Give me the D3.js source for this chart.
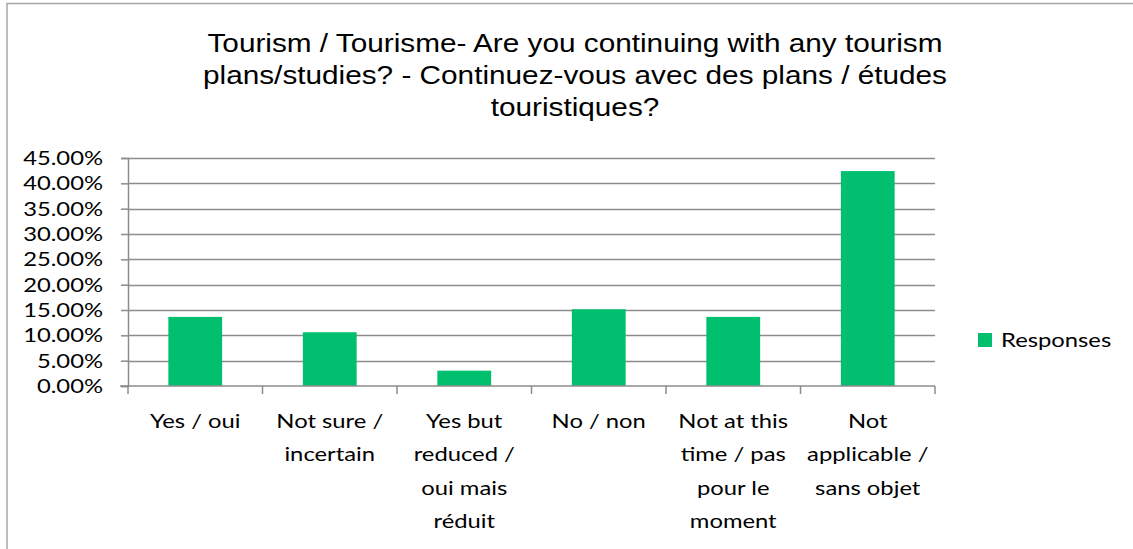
<!DOCTYPE html>
<html>
<head>
<meta charset="utf-8">
<script src="https://cdn.jsdelivr.net/npm/d3@7"></script>
<style>
	body { margin: 0; background: #fff; }
	svg { display: block; }
	.tick text { font-family: Lato, "Open Sans", sans-serif; }
</style>
</head>
<body>
<script>
//categories, one entry per bar (lines as Excel wrapped them)
var categories = [
	"Yes / oui",
	"Not sure / incertain",
	"Yes but reduced / oui mais réduit",
	"No / non",
	"Not at this time / pas pour le moment",
	"Not applicable / sans objet"
];
var categoryLines = [
	["Yes / oui"],
	["Not sure /", "incertain"],
	["Yes but", "reduced /", "oui mais", "réduit"],
	["No / non"],
	["Not at this", "time / pas", "pour le", "moment"],
	["Not", "applicable /", "sans objet"]
];
//share of responses
var responses = [0.1364, 0.1061, 0.0303, 0.1515, 0.1364, 0.4242];
var yTicks = [0, 0.05, 0.10, 0.15, 0.20, 0.25, 0.30, 0.35, 0.40, 0.45];
var titleLines = [
	"Tourism / Tourisme- Are you continuing with any tourism",
	"plans/studies? - Continuez-vous avec des plans / études",
	"touristiques?"
];
var seriesName = "Responses";

var width = 1133, height = 549;
var barColor = "#00bf6f";
//the source picture is stretched sideways, so text gets the same stretch
var sx = 1.19;
var left = 128, right = 935;

var svg = d3.select("body").append("svg")
	.attr("width", width)
	.attr("height", height);

//chart frame (only left and top edges show in the crop)
svg.append("rect")
	.attr("x", 7)
	.attr("y", 3.5)
	.attr("width", width + 20)
	.attr("height", height + 20)
	.attr("fill", "none")
	.attr("stroke", "#a6a6a6")
	.attr("stroke-width", 1.5);

//title
svg.append("g").selectAll("text")
	.data(titleLines)
	.enter()
	.append("text")
	.attr("x", 575 / sx)
	.attr("y", function(d, i){ return 52 + i * 32; })
	.attr("transform", "scale(" + sx + ",1)")
	.attr("text-anchor", "middle")
	.style("font-family", "'Liberation Sans', Arial, sans-serif")
	.style("font-size", "25px")
	.style("fill", "#000")
	.text(function(d){ return d; });

var x = d3.scaleBand()
	.domain(categories)
	.range([left, right])
	.paddingInner(0.6)
	.paddingOuter(0.3);

var y = d3.scaleLinear()
	.domain([0, 0.45])
	.range([386, 158]);

//gridlines
svg.append("g")
	.selectAll("line")
	.data(yTicks.slice(1))
	.enter()
	.append("line")
	.attr("x1", left)
	.attr("x2", right)
	.attr("y1", function(d){ return Math.round(y(d)) + 0.5; })
	.attr("y2", function(d){ return Math.round(y(d)) + 0.5; })
	.attr("stroke", "#8c8c8c")
	.attr("stroke-width", 1.5);

//y axis
var yAxis = d3.axisLeft(y)
	.tickValues(yTicks)
	.tickFormat(d3.format(".2%"))
	.tickSize(7);

var yG = svg.append("g")
	.attr("transform", "translate(" + left + ",0)")
	.call(yAxis);
yG.select(".domain").attr("stroke", "#8c8c8c").attr("stroke-width", 1.5);
yG.selectAll(".tick line").attr("stroke", "#8c8c8c").attr("stroke-width", 1.5);
yG.selectAll(".tick text")
	.attr("x", -25 / sx)
	.attr("transform", "scale(" + sx + ",1)")
	.style("font-size", "20px")
	.attr("fill", "#000");

//bars
svg.append("g")
	.selectAll("rect")
	.data(responses)
	.enter()
	.append("rect")
	.attr("x", function(d, i){ return x(categories[i]); })
	.attr("width", x.bandwidth())
	.attr("y", function(d){ return y(d); })
	.attr("height", function(d){ return y(0) - y(d); })
	.attr("fill", barColor);

//x axis: baseline plus ticks between categories
var boundaries = d3.range(categories.length + 1).map(function(i){
	return left + i * (right - left) / categories.length;
});
var xG = svg.append("g");
xG.append("line")
	.attr("x1", left - 8)
	.attr("x2", right)
	.attr("y1", y(0))
	.attr("y2", y(0))
	.attr("stroke", "#8c8c8c")
	.attr("stroke-width", 1.5);
xG.selectAll("line.tk")
	.data(boundaries)
	.enter()
	.append("line")
	.attr("class", "tk")
	.attr("x1", function(d){ return d; })
	.attr("x2", function(d){ return d; })
	.attr("y1", y(0))
	.attr("y2", y(0) + 8)
	.attr("stroke", "#8c8c8c")
	.attr("stroke-width", 1.5);

var labels = xG.selectAll("text")
	.data(categories)
	.enter()
	.append("text")
	.attr("transform", "scale(" + sx + ",1)")
	.attr("text-anchor", "middle")
	.style("font-family", "Lato, 'Open Sans', sans-serif")
	.style("font-size", "20px")
	.attr("fill", "#000");

labels.selectAll("tspan")
	.data(function(d, i){ return categoryLines[i].map(function(t){ return {t: t, c: d}; }); })
	.enter()
	.append("tspan")
	.attr("x", function(d){ return (x(d.c) + x.bandwidth() / 2) / sx; })
	.attr("y", function(d, j){ return 428 + j * 33.5; })
	.text(function(d){ return d.t; });

//legend
var legend = svg.append("g");
legend.append("rect")
	.attr("x", 978)
	.attr("y", 333)
	.attr("width", 14)
	.attr("height", 14)
	.attr("fill", barColor);
legend.append("text")
	.attr("x", 1001 / sx)
	.attr("y", 347)
	.attr("transform", "scale(" + sx + ",1)")
	.style("font-family", "Lato, 'Open Sans', sans-serif")
	.style("font-size", "20px")
	.attr("fill", "#000")
	.text(seriesName);
</script>
</body>
</html>
